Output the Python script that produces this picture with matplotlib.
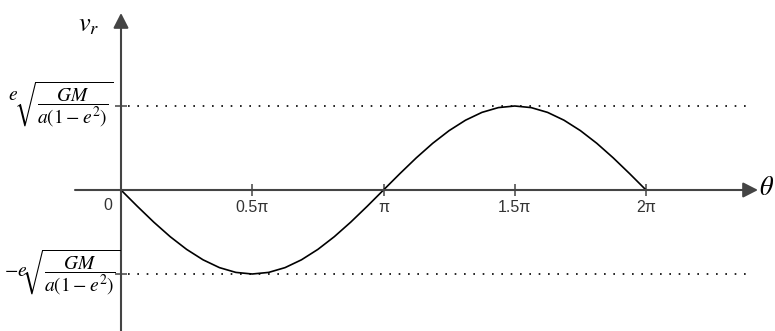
import matplotlib
matplotlib.use("Agg")
import matplotlib.pyplot as plt

# data (theta in units of pi, v_r in units of e*sqrt(GM/(a(1-e^2))))
theta_pi = [0.0, 0.0625, 0.125, 0.1875, 0.25, 0.3125, 0.375, 0.4375, 0.5,
            0.5625, 0.625, 0.6875, 0.75, 0.8125, 0.875, 0.9375, 1.0,
            1.0625, 1.125, 1.1875, 1.25, 1.3125, 1.375, 1.4375, 1.5,
            1.5625, 1.625, 1.6875, 1.75, 1.8125, 1.875, 1.9375, 2.0]
v_r = [0.0, -0.195, -0.383, -0.556, -0.707, -0.831, -0.924, -0.981, -1.0,
       -0.981, -0.924, -0.831, -0.707, -0.556, -0.383, -0.195, 0.0,
       0.195, 0.383, 0.556, 0.707, 0.831, 0.924, 0.981, 1.0,
       0.981, 0.924, 0.831, 0.707, 0.556, 0.383, 0.195, 0.0]
xtick_pos = [0.5, 1.0, 1.5, 2.0]
xtick_labels = ['0.5π', 'π', '1.5π', '2π']
ytick_pos = [1.0, -1.0]
ytick_prefix = [r'$e$', r'$-e$']
ytick_root = r'$\sqrt{\dfrac{GM}{a\left(1-e^2\right)}}$'

plt.rcParams['mathtext.fontset'] = 'stix'
W, H = 775, 331
fig = plt.figure(figsize=(W / 100, H / 100), dpi=100)
ax = fig.add_axes([0, 0, 1, 1])
ax.axis('off')

# pixel mapping: px = 121 + 262.5*x ; py = 190 - 84*v
def X(px):
    return (px - 121) / 262.5
def Y(py):
    return (190 - py) / 84.0

ax.set_xlim(X(0), X(W))
ax.set_ylim(Y(H), Y(0))

axc = '#444444'
alw = 1.5
ax.annotate('', xy=(X(758), 0), xytext=(X(75), 0),
            arrowprops=dict(arrowstyle='-|>,head_length=0.45,head_width=0.23',
                            mutation_scale=20, color=axc, lw=alw,
                            shrinkA=0, shrinkB=0))
ax.annotate('', xy=(0, Y(13)), xytext=(0, Y(H + 2)),
            arrowprops=dict(arrowstyle='-|>,head_length=0.45,head_width=0.23',
                            mutation_scale=20, color=axc, lw=alw,
                            shrinkA=0, shrinkB=0))

for xp, lab in zip(xtick_pos, xtick_labels):
    ax.plot([xp, xp], [Y(184), Y(196)], color=axc, lw=1.1, solid_capstyle='butt')
    ax.text(xp, Y(208), lab, ha='center', va='center', fontsize=11.5,
            color='#333333', family='Liberation Sans')
ax.text(X(108), Y(206), '0', ha='center', va='center', fontsize=11.5,
        color='#333333', family='Liberation Sans')

for yp in ytick_pos:
    ax.plot([X(115), X(127)], [yp, yp], color=axc, lw=1.1, solid_capstyle='butt')
    ax.plot([X(128), X(750)], [yp, yp], color='black', lw=1.2,
            linestyle=(0, (1, 4.6)))
# y tick labels: prefix and root
ax.text(X(113), Y(104), ytick_root, ha='right', va='center', fontsize=14)
ax.text(X(13), Y(95), ytick_prefix[0], ha='center', va='center', fontsize=14)
ax.text(X(120), Y(272), ytick_root, ha='right', va='center', fontsize=14)
ax.text(X(16), Y(271), ytick_prefix[1], ha='center', va='center', fontsize=14)

ax.text(X(89), Y(24), r'$v_r$', ha='center', va='center', fontsize=19)
ax.text(X(767), Y(188), r'$\theta$', ha='center', va='center', fontsize=19)

ax.plot(theta_pi, v_r, color='black', lw=1.2)

fig.savefig('out.png', dpi=100)
